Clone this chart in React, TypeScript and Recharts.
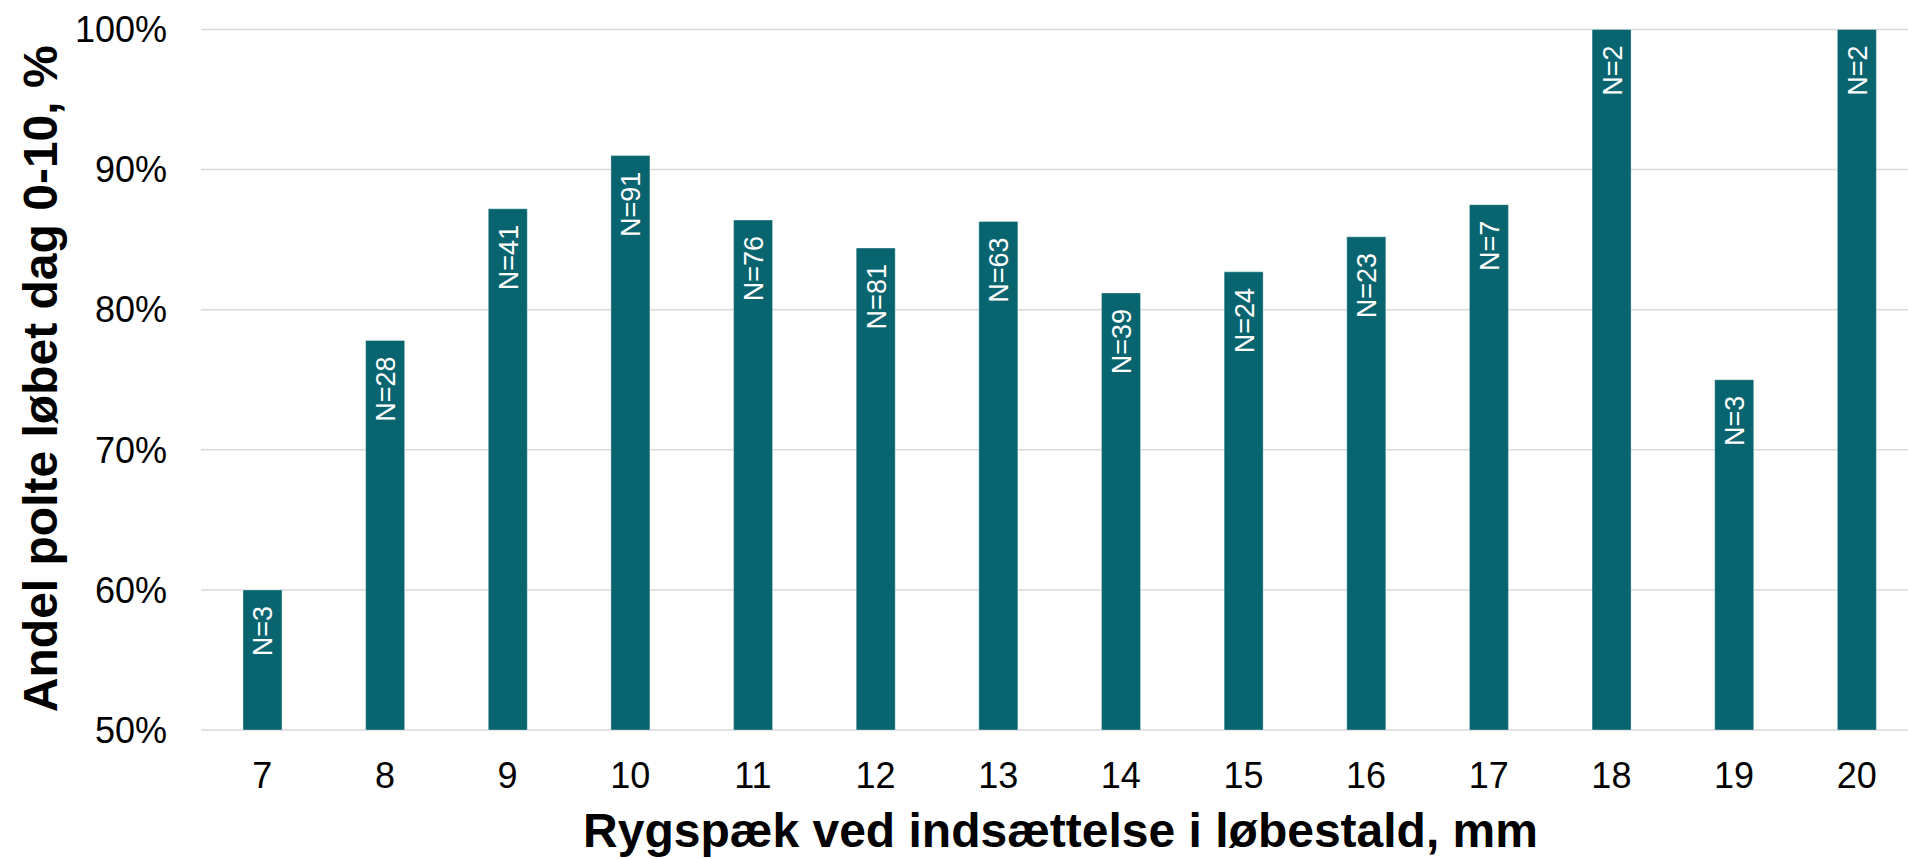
import React from "react";
import {
  Bar,
  BarChart,
  CartesianGrid,
  Label,
  LabelList,
  XAxis,
  YAxis,
} from "recharts";

// Rygspæk (mm) vs andel polte løbet dag 0-10
const categories = ["7", "8", "9", "10", "11", "12", "13", "14", "15", "16", "17", "18", "19", "20"];
const shares = [60, 77.8, 87.2, 91.0, 86.4, 84.4, 86.3, 81.2, 82.7, 85.2, 87.5, 100, 75, 100];
const counts = [3, 28, 41, 91, 76, 81, 63, 39, 24, 23, 7, 2, 3, 2];
const yTicks = [50, 60, 70, 80, 90, 100];

const xTitle = "Rygspæk ved indsættelse i løbestald, mm";
const yTitle = "Andel polte løbet dag 0-10, %";

const FONT = "'Liberation Sans', Arial, Helvetica, sans-serif";
const BAR_COLOR = "#08646f";

// layout
const CHART_W = 1930; // plot runs past the right edge, like the original crop
const CHART_H = 859;
const PLOT_LEFT = 201;
const PLOT_TOP = 29.5;
const PLOT_BOTTOM = 730;
const PLOT_RIGHT = 1918;

const chartData = categories.map((c, i) => ({
  mm: c,
  share: shares[i],
  label: `N=${counts[i]}`,
}));

function CountLabel(props: any) {
  const { x, y, width, value } = props;
  const cx = Number(x) + Number(width) / 2;
  const top = Number(y) + 16;
  return (
    <text
      x={cx + 10}
      y={top}
      transform={`rotate(-90, ${cx + 10}, ${top})`}
      textAnchor="end"
      fill="#ffffff"
      fontSize={27}
      fontFamily={FONT}
    >
      {value}
    </text>
  );
}

export default function App() {
  const plotMidX = (PLOT_LEFT + PLOT_RIGHT) / 2;
  const plotMidY = (PLOT_TOP + PLOT_BOTTOM) / 2;

  return (
    <div
      style={{
        position: "absolute",
        left: 0,
        top: 0,
        width: 1908,
        height: 859,
        overflow: "hidden",
        background: "#ffffff",
      }}
    >
      <BarChart
        width={CHART_W}
        height={CHART_H}
        data={chartData}
        margin={{ top: PLOT_TOP, right: CHART_W - PLOT_RIGHT, bottom: 0, left: 0 }}
      >
        <CartesianGrid vertical={false} stroke="#d9d9d9" strokeWidth={1.5} />
        <XAxis
          dataKey="mm"
          height={CHART_H - PLOT_BOTTOM}
          axisLine={false}
          tickLine={false}
          tickSize={0}
          tickMargin={32}
          tick={{ fill: "#000000", fontSize: 36, fontFamily: FONT }}
          interval={0}
        >
          <Label
            content={() => (
              <text
                x={plotMidX + 1}
                y={847}
                textAnchor="middle"
                fill="#000000"
                fontSize={48}
                fontWeight="bold"
                fontFamily={FONT}
              >
                {xTitle}
              </text>
            )}
          />
        </XAxis>
        <YAxis
          width={PLOT_LEFT}
          domain={[50, 100]}
          ticks={yTicks}
          axisLine={false}
          tickLine={false}
          tickSize={0}
          tickMargin={34}
          tickFormatter={(v) => `${v}%`}
          tick={{ fill: "#000000", fontSize: 36, fontFamily: FONT }}
        >
          <Label
            content={() => (
              <text
                x={57}
                y={plotMidY - 1}
                transform={`rotate(-90, 57, ${plotMidY - 1})`}
                textAnchor="middle"
                fill="#000000"
                fontSize={48}
                fontWeight="bold"
                fontFamily={FONT}
              >
                {yTitle}
              </text>
            )}
          />
        </YAxis>
        <Bar
          dataKey="share"
          fill={BAR_COLOR}
          stroke="#ffffff"
          strokeOpacity={0.35}
          strokeWidth={1}
          barSize={39}
          isAnimationActive={false}
        >
          <LabelList dataKey="label" content={<CountLabel />} />
        </Bar>
      </BarChart>
    </div>
  );
}
